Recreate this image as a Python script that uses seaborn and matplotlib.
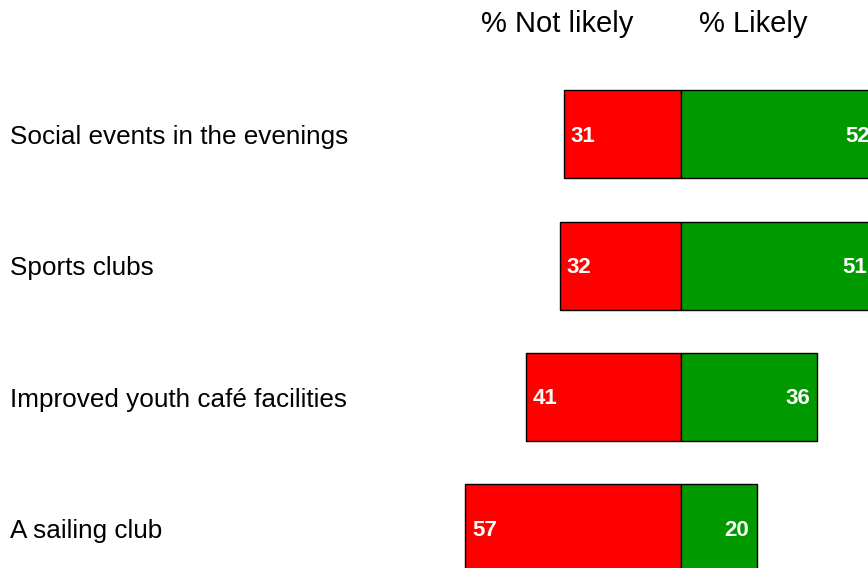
import matplotlib
matplotlib.use("Agg")
import matplotlib.pyplot as plt
import matplotlib.transforms as mtransforms
import seaborn as sns
import pandas as pd
import numpy as np

categories = ["Social events in the evenings", "Sports clubs",
              "Improved youth café facilities", "A sailing club"]
not_likely = [31, 32, 41, 57]
likely = [52, 51, 36, 20]
headers = ["% Not likely", "% Likely"]

sns.set_theme(style="white")
plt.rcParams['font.family'] = ['Liberation Sans', 'DejaVu Sans']

fig = plt.figure(figsize=(8.68, 5.68), dpi=100)
ax = fig.add_axes([453.6/868, -0.0452, 454.8/868, 0.924])

df = pd.DataFrame({"cat": categories,
                   "nl": [-v for v in not_likely],
                   "l": likely})
sns.barplot(data=df, x="nl", y="cat", orient="h", color="#FF0000",
            saturation=1, width=0.67, edgecolor="black", linewidth=1, ax=ax)
sns.barplot(data=df, x="l", y="cat", orient="h", color="#009900",
            saturation=1, width=0.67, edgecolor="black", linewidth=1, ax=ax)

ax.set_xlim(-60, 60)
ax.set_ylim(3.5, -0.5)
ax.axis("off")

off = mtransforms.offset_copy(ax.transData, fig=fig, x=0, y=-1.5, units="points")
for i, (n, l) in enumerate(zip(not_likely, likely)):
    ax.text(-n + 1.9, i, str(n), color="white", fontsize=16, fontweight="bold",
            ha="left", va="center", transform=off)
    ax.text(l - 2.0, i, str(l), color="white", fontsize=16, fontweight="bold",
            ha="right", va="center", transform=off)

trans = mtransforms.blended_transform_factory(fig.transFigure, ax.transData)
trans = mtransforms.offset_copy(trans, fig=fig, x=0, y=-2, units="points")
for i, c in enumerate(categories):
    ax.text(10/868, i, c, transform=trans, fontsize=18.8, ha="left",
            va="center", color="black", clip_on=False)

fig.text(557/868, 1 - 24/568, headers[0], fontsize=21, ha="center", va="center", color="black")
fig.text(753/868, 1 - 24/568, headers[1], fontsize=21, ha="center", va="center", color="black")

fig.savefig("out.png", dpi=100)
